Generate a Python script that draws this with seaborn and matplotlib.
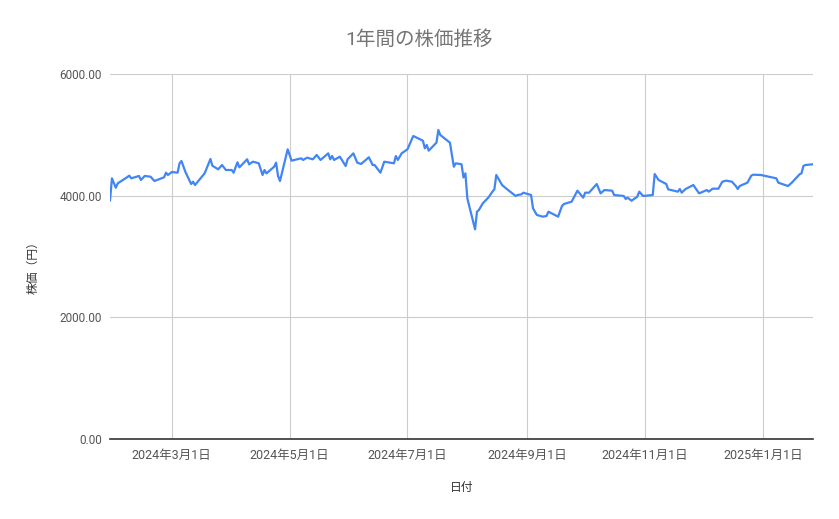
import matplotlib
matplotlib.use("Agg")
import matplotlib.pyplot as plt
import matplotlib.dates as mdates
import matplotlib.ticker as mticker
import pandas as pd
import seaborn as sns

# values
dates = [
    "2024-01-29", "2024-01-30", "2024-02-01", "2024-02-02", "2024-02-06", "2024-02-08",
    "2024-02-09", "2024-02-13", "2024-02-14", "2024-02-16", "2024-02-19", "2024-02-21",
    "2024-02-26", "2024-02-27", "2024-02-28", "2024-03-01", "2024-03-04", "2024-03-05",
    "2024-03-06", "2024-03-08", "2024-03-11", "2024-03-12", "2024-03-13", "2024-03-18",
    "2024-03-21", "2024-03-22", "2024-03-25", "2024-03-27", "2024-03-29", "2024-04-01",
    "2024-04-02", "2024-04-04", "2024-04-05", "2024-04-09", "2024-04-10", "2024-04-12",
    "2024-04-15", "2024-04-17", "2024-04-18", "2024-04-19", "2024-04-23", "2024-04-24",
    "2024-04-25", "2024-04-26", "2024-04-30", "2024-05-02", "2024-05-07", "2024-05-08",
    "2024-05-10", "2024-05-13", "2024-05-15", "2024-05-17", "2024-05-21", "2024-05-22",
    "2024-05-23", "2024-05-24", "2024-05-27", "2024-05-30", "2024-05-31", "2024-06-03",
    "2024-06-05", "2024-06-07", "2024-06-11", "2024-06-13", "2024-06-14", "2024-06-17",
    "2024-06-19", "2024-06-24", "2024-06-25", "2024-06-26", "2024-06-28", "2024-07-01",
    "2024-07-04", "2024-07-09", "2024-07-10", "2024-07-11", "2024-07-12", "2024-07-16",
    "2024-07-17", "2024-07-18", "2024-07-23", "2024-07-25", "2024-07-26", "2024-07-29",
    "2024-07-30", "2024-07-31", "2024-08-01", "2024-08-05", "2024-08-06", "2024-08-07",
    "2024-08-09", "2024-08-12", "2024-08-14", "2024-08-15", "2024-08-16", "2024-08-19",
    "2024-08-21", "2024-08-26", "2024-08-27", "2024-08-29", "2024-08-30", "2024-09-03",
    "2024-09-04", "2024-09-06", "2024-09-09", "2024-09-11", "2024-09-12", "2024-09-17",
    "2024-09-19", "2024-09-20", "2024-09-24", "2024-09-27", "2024-09-30", "2024-10-01",
    "2024-10-03", "2024-10-07", "2024-10-09", "2024-10-11", "2024-10-15", "2024-10-16",
    "2024-10-21", "2024-10-22", "2024-10-23", "2024-10-25", "2024-10-28", "2024-10-29",
    "2024-10-31", "2024-11-05", "2024-11-06", "2024-11-08", "2024-11-12", "2024-11-13",
    "2024-11-18", "2024-11-19", "2024-11-20", "2024-11-22", "2024-11-26", "2024-11-29",
    "2024-12-03", "2024-12-04", "2024-12-06", "2024-12-09", "2024-12-11", "2024-12-13",
    "2024-12-16", "2024-12-18", "2024-12-19", "2024-12-20", "2024-12-24", "2024-12-26",
    "2024-12-27", "2024-12-31", "2025-01-08", "2025-01-09", "2025-01-14", "2025-01-16",
    "2025-01-20", "2025-01-21", "2025-01-22", "2025-01-23", "2025-01-27",
]
prices = [
    3917, 4285, 4131, 4203, 4285, 4329,
    4285, 4324, 4258, 4324, 4312, 4241,
    4302, 4378, 4340, 4389, 4378, 4532,
    4570, 4394, 4192, 4230, 4175, 4367,
    4603, 4493, 4433, 4504, 4422, 4422,
    4378, 4549, 4466, 4598, 4516, 4559,
    4532, 4340, 4422, 4367, 4476, 4543,
    4324, 4241, 4762, 4576, 4614, 4587,
    4625, 4598, 4669, 4587, 4696, 4598,
    4652, 4587, 4641, 4488, 4598, 4696,
    4543, 4521, 4631, 4504, 4504, 4378,
    4559, 4532, 4652, 4587, 4696, 4762,
    4981, 4904, 4779, 4833, 4740, 4871,
    5080, 4998, 4871, 4476, 4532, 4516,
    4300, 4367, 3957, 3447, 3737, 3765,
    3874, 3973, 4066, 4104, 4340, 4175,
    4121, 3995, 4011, 4022, 4049, 4011,
    3792, 3683, 3655, 3666, 3737, 3655,
    3830, 3863, 3901, 4082, 3967, 4049,
    4049, 4192, 4038, 4093, 4082, 4011,
    3995, 3946, 3967, 3917, 3984, 4066,
    3995, 4011, 4356, 4258, 4192, 4104,
    4066, 4110, 4049, 4110, 4175, 4038,
    4093, 4066, 4115, 4115, 4230, 4247,
    4230, 4159, 4110, 4159, 4214, 4329,
    4345, 4340, 4285, 4214, 4159, 4214,
    4351, 4367, 4488, 4504, 4516,
]
yTicks = [0, 2000, 4000, 6000]

df = pd.DataFrame({"date": pd.to_datetime(dates), "price": prices})

sns.set_style("white")
plt.rcParams["font.family"] = ["Roboto", "Noto Sans CJK JP", "DejaVu Sans"]

fig = plt.figure(figsize=(8.39, 5.19), dpi=100)
ax = fig.add_axes([0.1311, 0.1541, 0.838, 0.7033])

sns.lineplot(data=df, x="date", y="price", ax=ax, color="#4285F4", linewidth=1.6)

ax.set_ylim(0, 6000)
ax.set_xlim(df["date"].min(), df["date"].max())
ax.set_yticks(yTicks)
ax.yaxis.set_major_formatter(mticker.FuncFormatter(lambda v, p: f"{v:.2f}"))
ax.xaxis.set_major_locator(mdates.MonthLocator(bymonth=[1, 3, 5, 7, 9, 11]))
ax.xaxis.set_major_formatter(mticker.FuncFormatter(
    lambda v, p: (lambda d: f"{d.year}年{d.month}月{d.day}日")(mdates.num2date(v))))

ax.grid(True, color="#cccccc", linewidth=0.8)
ax.set_axisbelow(True)
for side in ["top", "right", "left"]:
    ax.spines[side].set_visible(False)
ax.spines["bottom"].set_color("#333333")
ax.spines["bottom"].set_linewidth(1.2)
ax.spines["bottom"].set_zorder(3)
ax.tick_params(axis="both", length=0, labelsize=8.5, labelcolor="#555555")
ax.tick_params(axis="x", pad=7, labelsize=9)
ax.tick_params(axis="y", pad=6)

ax.set_xlabel("日付", fontsize=8.5, color="#333333", va="center")
ax.xaxis.set_label_coords(0.5, -0.1315)
ax.set_ylabel("株価（円）", fontsize=8.5, color="#333333", va="center")
ax.yaxis.set_label_coords(-0.1095, 0.477)
fig.text(0.5, 0.923, "1年間の株価推移", ha="center", va="center", fontsize=14, color="#757575")

fig.savefig("out.png", dpi=100)
